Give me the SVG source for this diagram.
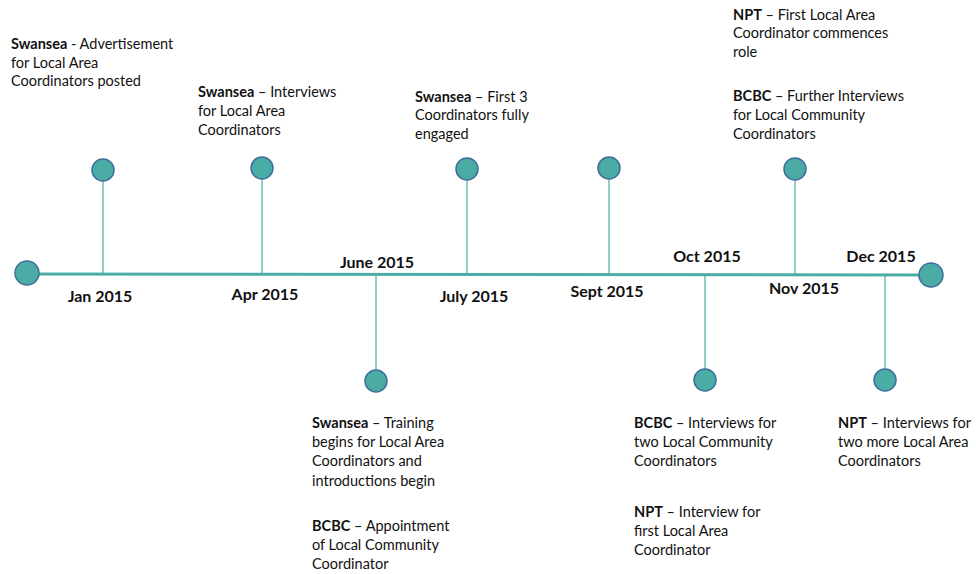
<svg xmlns="http://www.w3.org/2000/svg" width="976" height="574" viewBox="0 0 976 574">
<style>
text{font-family:Lato,"Open Sans","Liberation Sans",sans-serif;fill:#111;}
.t{font-size:14.5px;}
.b{font-weight:bold;}
.d{font-size:16px;font-weight:bold;text-anchor:middle;}
.dot{fill:#4BACA6;stroke:#3E6E9C;stroke-width:1.5;}
.ln{stroke:#4BACA6;fill:none;}
</style>
<rect width="976" height="574" fill="#fff"/>
<g id="connectors">
<line class="ln" x1="27" y1="274" x2="931" y2="275" stroke-width="3"/>
<line class="ln" x1="103" y1="170" x2="103" y2="274" stroke-width="1.2"/>
<line class="ln" x1="262" y1="168" x2="262" y2="274" stroke-width="1.2"/>
<line class="ln" x1="467" y1="169" x2="467" y2="274" stroke-width="1.2"/>
<line class="ln" x1="609" y1="168" x2="609" y2="275" stroke-width="1.2"/>
<line class="ln" x1="795" y1="169" x2="795" y2="275" stroke-width="1.2"/>
<line class="ln" x1="376" y1="274" x2="376" y2="381" stroke-width="1.2"/>
<line class="ln" x1="705" y1="275" x2="705" y2="380" stroke-width="1.2"/>
<line class="ln" x1="885" y1="275" x2="885" y2="380" stroke-width="1.2"/>
</g>
<g id="start"><circle class="dot" cx="27" cy="273" r="12"/></g>
<g id="end"><circle class="dot" cx="931" cy="275" r="12"/></g>
<g id="jan">
<circle class="dot" cx="103" cy="170" r="11"/>
<text class="d" x="100" y="302">Jan 2015</text>
<text class="t" x="11" y="49"><tspan class="b">Swansea</tspan> - Advertisement</text>
<text class="t" x="11" y="68">for Local Area</text>
<text class="t" x="11" y="86">Coordinators posted</text>
</g>
<g id="apr">
<circle class="dot" cx="262" cy="168" r="11"/>
<text class="d" x="265" y="300">Apr 2015</text>
<text class="t" x="198" y="97"><tspan class="b">Swansea</tspan> – Interviews</text>
<text class="t" x="198" y="116">for Local Area</text>
<text class="t" x="198" y="135">Coordinators</text>
</g>
<g id="june">
<circle class="dot" cx="376" cy="381" r="11"/>
<text class="d" x="377" y="268">June 2015</text>
<text class="t" x="312" y="428"><tspan class="b">Swansea</tspan> – Training</text>
<text class="t" x="312" y="447">begins for Local Area</text>
<text class="t" x="312" y="466">Coordinators and</text>
<text class="t" x="312" y="486">introductions begin</text>
<text class="t" x="312" y="531"><tspan class="b">BCBC</tspan> – Appointment</text>
<text class="t" x="312" y="550">of Local Community</text>
<text class="t" x="312" y="569">Coordinator</text>
</g>
<g id="july">
<circle class="dot" cx="467" cy="169" r="11"/>
<text class="d" x="474" y="302">July 2015</text>
<text class="t" x="415" y="102"><tspan class="b">Swansea</tspan> – First 3</text>
<text class="t" x="415" y="120">Coordinators fully</text>
<text class="t" x="415" y="139">engaged</text>
</g>
<g id="sept">
<circle class="dot" cx="609" cy="168" r="11"/>
<text class="d" x="607" y="297">Sept 2015</text>
</g>
<g id="oct">
<circle class="dot" cx="705" cy="380" r="11"/>
<text class="d" x="707" y="262">Oct 2015</text>
<text class="t" x="634" y="428"><tspan class="b">BCBC</tspan> – Interviews for</text>
<text class="t" x="634" y="447">two Local Community</text>
<text class="t" x="634" y="466">Coordinators</text>
<text class="t" x="634" y="517"><tspan class="b">NPT</tspan> – Interview for</text>
<text class="t" x="634" y="536">first Local Area</text>
<text class="t" x="634" y="555">Coordinator</text>
</g>
<g id="nov">
<circle class="dot" cx="795" cy="169" r="11"/>
<text class="d" x="804" y="294">Nov 2015</text>
<text class="t" x="733" y="20"><tspan class="b">NPT</tspan> – First Local Area</text>
<text class="t" x="733" y="38">Coordinator commences</text>
<text class="t" x="733" y="57">role</text>
<text class="t" x="733" y="101"><tspan class="b">BCBC</tspan> – Further Interviews</text>
<text class="t" x="733" y="120">for Local Community</text>
<text class="t" x="733" y="139">Coordinators</text>
</g>
<g id="dec">
<circle class="dot" cx="885" cy="380" r="11"/>
<text class="d" x="881" y="262">Dec 2015</text>
<text class="t" x="838" y="428"><tspan class="b">NPT</tspan> – Interviews for</text>
<text class="t" x="838" y="447">two more Local Area</text>
<text class="t" x="838" y="466">Coordinators</text>
</g>
</svg>
